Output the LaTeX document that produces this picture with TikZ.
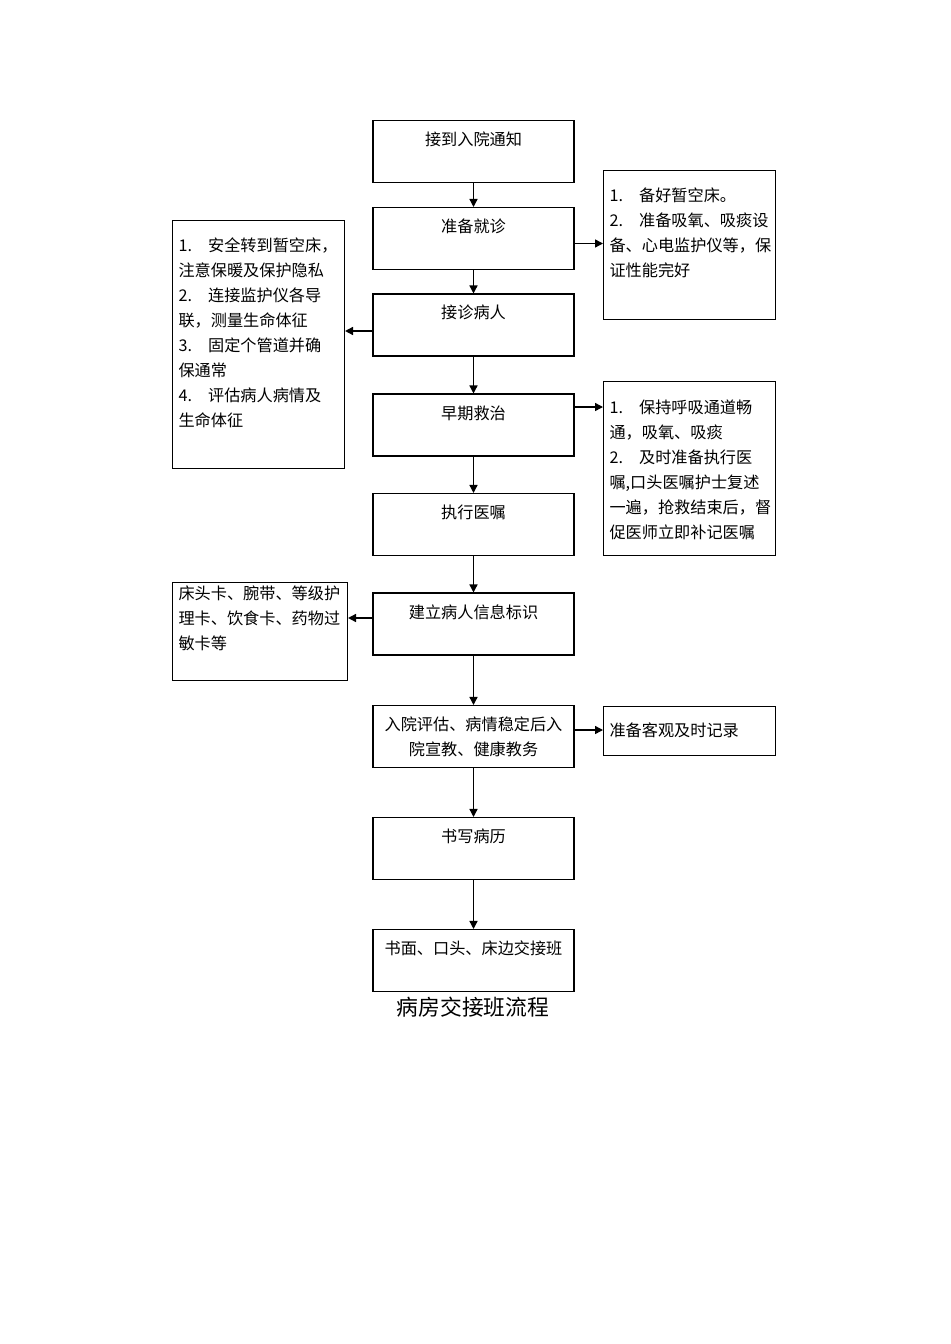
\documentclass[tikz,border=0pt]{standalone}
\usepackage{fontspec}
\newfontfamily\cjk{Noto Sans CJK SC}
\usetikzlibrary{arrows.meta}

\begin{document}
\begin{tikzpicture}[x=0.02cm,y=-0.02cm,>={Triangle[length=1.6mm,width=1.6mm]},
  mainbox/.style={draw,line width=0.6pt,inner sep=0pt,text width=4.02cm,align=center,
    text height=0.5cm,text depth=0.74cm,font=\cjk\fontsize{9.2pt}{14.2pt}\selectfont},
  sidebox/.style={draw,line width=0.6pt,anchor=north west,inner xsep=0.12cm,inner ysep=0pt,
    text width=3.2cm,align=left,font=\cjk\fontsize{9.2pt}{14.2pt}\selectfont},
  flow/.style={->,line width=0.8pt}]
\fill[white] (0,0) rectangle (950,1344);
\useasboundingbox (0,0) rectangle (950,1344);
% main column
\node[mainbox] (notice)   at (473.5,151.5) {接到入院通知};
\node[mainbox] (prep)     at (473.5,238.5) {准备就诊};
\node[mainbox] (receive)  at (473.5,325)   {接诊病人};
\node[mainbox] (rescue)   at (473.5,425)   {早期救治};
\node[mainbox] (orders)   at (473.5,524.5) {执行医嘱};
\node[mainbox] (ident)    at (473.5,624)   {建立病人信息标识};
\node[mainbox] (assess)   at (473.5,736.5) {入院评估、病情稳定后入\\院宣教、健康教务};
\node[mainbox] (record)   at (473.5,848.5) {书写病历};
\node[mainbox] (handover) at (473.5,960.5) {书面、口头、床边交接班};
\node[font=\cjk\fontsize{12.4pt}{15pt}\selectfont] (title) at (473,1007) {病房交接班流程};
% side notes
\node[sidebox,text height=0.62cm,text depth=4.34cm] (care) at (172,220)
  {1.\quad 安全转到暂空床，\\注意保暖及保护隐私\\2.\quad 连接监护仪各导\\联，测量生命体征\\3.\quad 固定个管道并确\\保通常\\4.\quad 评估病人病情及\\生命体征};
\node[sidebox,text height=0.62cm,text depth=2.36cm] (readybed) at (603,170)
  {1.\quad 备好暂空床。\\2.\quad 准备吸氧、吸痰设\\备、心电监护仪等，保\\证性能完好};
\node[sidebox,text height=0.64cm,text depth=2.84cm] (airway) at (603,381)
  {1.\quad 保持呼吸通道畅\\通，吸氧、吸痰\\2.\quad 及时准备执行医\\嘱,口头医嘱护士复述\\一遍，抢救结束后，督\\促医师立即补记医嘱};
\node[sidebox,text width=3.26cm,text height=0.34cm,text depth=1.62cm] (cards) at (172,582)
  {床头卡、腕带、等级护\\理卡、饮食卡、药物过\\敏卡等};
\node[sidebox,text height=0.6cm,text depth=0.38cm] (chart) at (603,706)
  {准备客观及时记录};
% down arrows
\draw[flow] (notice) -- (prep);
\draw[flow] (prep) -- (receive);
\draw[flow] (receive) -- (rescue);
\draw[flow] (rescue) -- (orders);
\draw[flow] (orders) -- (ident);
\draw[flow] (ident) -- (assess);
\draw[flow] (assess) -- (record);
\draw[flow] (record) -- (handover);
% side arrows
\draw[flow] ([yshift=-0.1cm]prep.east) -- ([yshift=-0.1cm]prep.east -| readybed.west);
\draw[flow] ([yshift=-0.12cm]receive.west) -- ([yshift=-0.12cm]receive.west -| care.east);
\draw[flow] ([yshift=0.36cm]rescue.east) -- ([yshift=0.36cm]rescue.east -| airway.west);
\draw[flow] ([yshift=0.12cm]ident.west) -- ([yshift=0.12cm]ident.west -| cards.east);
\draw[flow] ([yshift=0.13cm]assess.east) -- ([yshift=0.13cm]assess.east -| chart.west);
\end{tikzpicture}
\end{document}
